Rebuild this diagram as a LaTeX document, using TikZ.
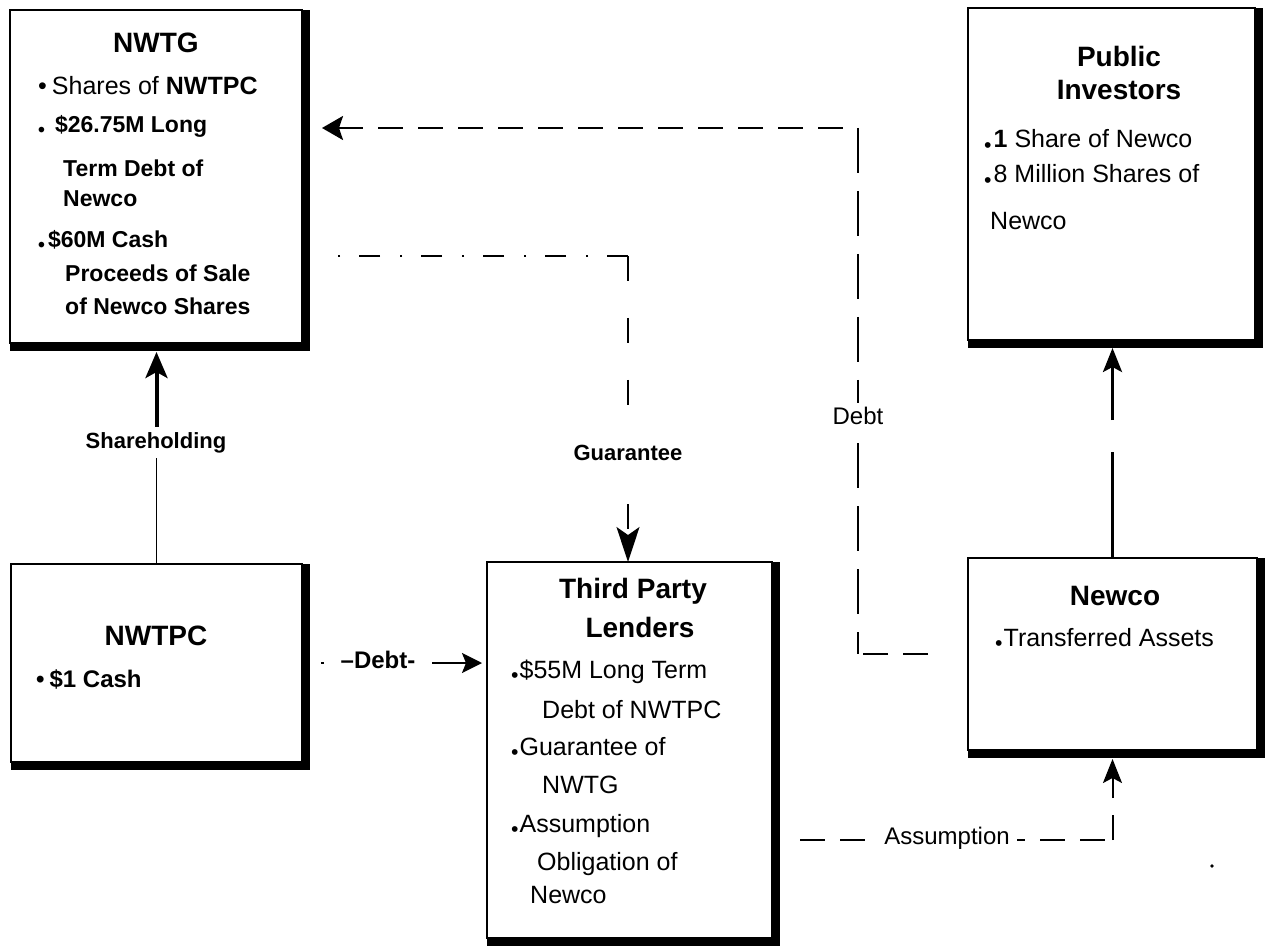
\documentclass[tikz,border=0pt]{standalone}
\usepackage{fontspec}
\usepackage{graphicx}
\setmainfont{Liberation Sans}
\usetikzlibrary{arrows.meta}

% bullets: a raised one and one sitting on the baseline
\newcommand\midbul{\textbullet}
\newcommand\lowbul{\raisebox{-0.17em}{\scalebox{0.85}{\textbullet}}}
% heavy right and bottom edge of an entity box
\newcommand\boxshade[1]{%
  \fill (#1.north east) rectangle ([shift={(8,8)}]#1.south east);
  \fill (#1.south west) rectangle ([shift={(8,8)}]#1.south east);}

\begin{document}
\begin{tikzpicture}[x=1pt, y=-1pt,
  entity/.style={draw, line width=2.5pt, fill=white, anchor=north west,
                 inner sep=0pt, outer sep=0pt},
  ttl/.style={anchor=base, inner sep=0pt, font=\fontsize{28}{32}\selectfont\bfseries},
  body/.style={anchor=base west, inner sep=0pt, font=\fontsize{25}{30}\selectfont},
  bodyb/.style={anchor=base west, inner sep=0pt, font=\fontsize{23}{28}\selectfont\bfseries},
  lab/.style={fill=white, inner xsep=5pt, inner ysep=8pt, font=\fontsize{22}{26}\selectfont\bfseries},
  labr/.style={fill=white, inner sep=4pt, font=\fontsize{24}{28}\selectfont},
  flow/.style={line width=2pt},
  head/.style={-{Stealth[length=#1]}},
]
\useasboundingbox (0,0) rectangle (1266,949);
\fill[white] (0,0) rectangle (1266,949);

% ---------- entity boxes ----------
\node[entity, minimum width=292pt, minimum height=333pt] (nwtg)  at (10,10)  {};
\node[entity, minimum width=287pt, minimum height=332pt] (pub)   at (968,8)  {};
\node[entity, minimum width=291pt, minimum height=198pt] (nwtpc) at (11,564) {};
\node[entity, minimum width=285pt, minimum height=376pt] (tpl)   at (487,562) {};
\node[entity, minimum width=289pt, minimum height=192pt] (newco) at (968,558) {};
\boxshade{nwtg}
\boxshade{pub}
\boxshade{nwtpc}
\boxshade{tpl}
\boxshade{newco}

% NWTG
\node[ttl] (nwtg-t) at (156,53) {NWTG};
\node[body] (nwtg-1) at (38,95) {\midbul\hspace{5pt}Shares of \textbf{NWTPC}};
\node[bodyb] (nwtg-2) at (38,133) {\lowbul\hspace{10pt}\$26.75M Long};
\node[bodyb] (nwtg-3) at (63,177) {Term Debt of};
\node[bodyb] (nwtg-4) at (63,207) {Newco};
\node[bodyb] (nwtg-5) at (38,248) {\lowbul\hspace{3pt}\$60M Cash};
\node[bodyb] (nwtg-6) at (65,282) {Proceeds of Sale};
\node[bodyb] (nwtg-7) at (65,315) {of Newco Shares};

% Public Investors
\node[ttl] (pub-t1) at (1119,67) {Public};
\node[ttl] (pub-t2) at (1119,100) {Investors};
\node[body] (pub-1) at (984,148) {\lowbul\hspace{2pt}\textbf{1} Share of Newco};
\node[body] (pub-2) at (984,183) {\lowbul\hspace{2pt}8 Million Shares of};
\node[body] (pub-3) at (990,230) {Newco};

% NWTPC
\node[ttl] (nwtpc-t) at (156,645) {NWTPC};
\node[bodyb, font=\fontsize{24}{28}\selectfont\bfseries] (nwtpc-1) at (36,687) {\midbul\hspace{5pt}\$1 Cash};

% Third Party Lenders
\node[ttl] (tpl-t1) at (633,598) {Third Party};
\node[ttl] (tpl-t2) at (640,637) {Lenders};
\node[body] (tpl-1) at (511,678) {\lowbul\hspace{1pt}\$55M Long Term};
\node[body] (tpl-2) at (542,718) {Debt of NWTPC};
\node[body] (tpl-3) at (511,755) {\lowbul\hspace{1pt}Guarantee of};
\node[body] (tpl-4) at (542,793) {NWTG};
\node[body] (tpl-5) at (511,832) {\lowbul\hspace{1pt}Assumption};
\node[body] (tpl-6) at (537,870) {Obligation of};
\node[body] (tpl-7) at (530,903) {Newco};

% Newco
\node[ttl] (newco-t) at (1115,605) {Newco};
\node[body] (newco-1) at (995,646) {\lowbul\hspace{1pt}Transferred Assets};

% ---------- connectors ----------
% Shareholding: NWTPC -> NWTG
\node[lab, inner ysep=5pt, anchor=base] (shl) at (156,448) {Shareholding};
\coordinate (nwtgfoot) at ([shift={(0,9)}]nwtg.south);
\draw[line width=1pt] (nwtpc.north) -- (nwtpc.north |- shl.south);
\draw[line width=4pt, -{Stealth[length=26pt,width=22pt,inset=6pt]}]
  (nwtpc.north |- shl.north) -- (nwtpc.north |- nwtgfoot);

% Newco -> Public Investors
\coordinate (pubfoot) at ([shift={(0,8)}]pub.south);
\coordinate (gapLow) at (1112,452);
\coordinate (gapHigh) at (1112,420);
\draw[line width=3.5pt] (newco.north) -- (newco.north |- gapLow);
\draw[line width=3pt, -{Stealth[length=24pt,width=19pt,inset=5pt]}]
  (newco.north |- gapHigh) -- (newco.north |- pubfoot);

% Debt: Newco -> NWTG
\coordinate (debtLow) at (858,654);
\coordinate (debtHigh) at (858,128);
\draw[flow, dash pattern=on 25pt off 15pt, shorten <=40pt] (newco.west) -- (debtLow);
\draw[line width=1.5pt, dash pattern=on 45pt off 18pt] (debtHigh) -- (debtLow);
\draw[line width=2.5pt, dash pattern=on 25pt off 15pt,
      {Stealth[length=21pt,width=24pt,inset=4pt]}-, shorten <=20pt]
  (debtHigh -| nwtg.east) -- (debtHigh);
\node[labr] (debtlab) at (858,416) {Debt};

% Guarantee: NWTG -> Third Party Lenders
\coordinate (gStart) at (322,256);
\coordinate (gCorner) at (628,256);
\draw[flow, dash pattern=on 21pt off 19pt on 2pt off 20pt] (gCorner) -- (gStart);
\draw[line width=1.5pt, dash pattern=on 25pt off 37pt,
      -{Stealth[length=35pt,width=23pt,inset=8pt]}]
  (gCorner) -- (gCorner |- tpl.north);
\node[lab] (guar) at (628,453) {Guarantee};

% Debt: NWTPC -> Third Party Lenders
\draw[flow, dash pattern=on 0pt off 19pt on 3pt off 108pt on 200pt off 1pt,
      -{Stealth[length=20pt,width=20pt,inset=4pt]}, shorten >=5pt]
  (nwtpc.east) -- (nwtpc.east -| tpl.west);
\node[inner sep=0pt, font=\fontsize{24}{28}\selectfont\bfseries] (debt2) at (378,660) {\textendash Debt-};

% Assumption: Third Party Lenders -> Newco
\coordinate (aStart) at (800,840);
\coordinate (newcofoot) at ([shift={(0,9)}]newco.south);
\coordinate (aCorner) at (newco.south |- aStart);
\draw[flow, dash pattern=on 25pt off 15pt] (aStart) -- (aCorner);
\draw[line width=2pt, dash pattern=on 25pt off 17pt on 200pt off 1pt,
      -{Stealth[length=24pt,width=19pt,inset=5pt]}]
  (aCorner) -- (newcofoot);
\node[labr, inner xsep=7pt, inner ysep=3pt] (assum) at (947,838) {Assumption};

% small mark near the lower right
\fill (1212,866) circle (1.8pt);
\end{tikzpicture}
\end{document}
